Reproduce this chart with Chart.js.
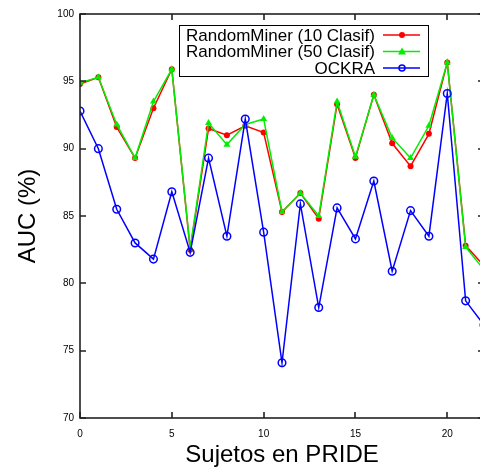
<!DOCTYPE html>
<html>
<head>
<meta charset="utf-8">
<script src="https://cdn.jsdelivr.net/npm/chart.js@4/dist/chart.umd.min.js"></script>
<style>
html,body{margin:0;padding:0;background:#fff;overflow:hidden;width:480px;height:470px;}
#wrap{width:490px;height:470px;}
</style>
</head>
<body>
<div id="wrap"><canvas id="c" width="490" height="470"></canvas></div>
<script>
const subjects = [0,1,2,3,4,5,6,7,8,9,10,11,12,13,14,15,16,17,18,19,20,21,22];
const rm10 = [94.8,95.3,91.6,89.3,93.0,95.9,82.5,91.5,91.0,91.7,91.2,85.3,86.7,84.8,93.3,89.3,94.0,90.4,88.7,91.1,96.4,82.8,81.3];
const rm50 = [94.9,95.3,91.8,89.3,93.5,95.9,82.6,91.9,90.3,91.8,92.2,85.3,86.7,85.0,93.5,89.4,94.0,90.8,89.3,91.7,96.4,82.7,81.0];
const ockra = [92.8,90.0,85.5,83.0,81.8,86.8,82.3,89.3,83.5,92.2,83.8,74.1,85.9,78.2,85.6,83.3,87.6,80.9,85.4,83.5,94.1,78.7,76.9];
const seriesNames = ["RandomMiner (10 Clasif)","RandomMiner (50 Clasif)","OCKRA"];
const xTicks = [0,5,10,15,20];
const yTicks = [70,75,80,85,90,95,100];
const xTitle = "Sujetos en PRIDE";
const yTitle = "AUC (%)";

const pts = arr => subjects.map((s,i)=>({x:s,y:arr[i]}));
const FONT = "'Liberation Sans', Arial, Helvetica, sans-serif";

const framePlugin = {
  id:'frame',
  afterDatasetsDraw(chart){
    const {ctx, chartArea:a, scales} = chart;
    ctx.save();
    ctx.strokeStyle = '#222';
    ctx.lineWidth = 1.6;
    ctx.strokeRect(a.left, a.top, a.right-a.left, a.bottom-a.top);
    const L = 6;
    ctx.beginPath();
    xTicks.forEach(v=>{
      const px = Math.round(scales.x.getPixelForValue(v));
      ctx.moveTo(px, a.bottom); ctx.lineTo(px, a.bottom-L);
      ctx.moveTo(px, a.top); ctx.lineTo(px, a.top+L);
    });
    yTicks.forEach(v=>{
      const py = Math.round(scales.y.getPixelForValue(v));
      ctx.moveTo(a.left, py); ctx.lineTo(a.left+L, py);
      ctx.moveTo(a.right, py); ctx.lineTo(a.right-L, py);
    });
    ctx.stroke();
    // legend (gnuplot style)
    const bx=179, by=25, bw=249, bh=51;
    ctx.fillStyle='#fff';
    ctx.fillRect(bx,by,bw,bh);
    ctx.lineWidth=1;
    ctx.strokeStyle='#000';
    ctx.strokeRect(bx+0.5,by+0.5,bw,bh);
    ctx.font = "17px " + FONT;
    ctx.textAlign='right';
    ctx.textBaseline='middle';
    const rows=[35,51.5,68];
    chart.data.datasets.forEach((ds,i)=>{
      const y=rows[i];
      ctx.fillStyle='#000';
      ctx.fillText(ds.label, 375, y+1);
      ctx.strokeStyle=ds.borderColor;
      ctx.lineWidth=1.5;
      ctx.beginPath(); ctx.moveTo(383,y); ctx.lineTo(420,y); ctx.stroke();
      const cx=402;
      ctx.fillStyle=ds.borderColor;
      if(ds.pointStyle==='triangle'){
        ctx.beginPath(); ctx.moveTo(cx,y-4); ctx.lineTo(cx+4,y+3); ctx.lineTo(cx-4,y+3); ctx.closePath(); ctx.fill();
      } else if(ds.label==='OCKRA'){
        ctx.beginPath(); ctx.arc(cx,y,3,0,Math.PI*2); ctx.stroke();
      } else {
        ctx.beginPath(); ctx.arc(cx,y,3,0,Math.PI*2); ctx.fill();
      }
    });
    ctx.restore();
  }
};

new Chart(document.getElementById('c'), {
  type:'line',
  data:{
    datasets:[
      {label:seriesNames[0], data:pts(rm10), borderColor:'#ff0000', backgroundColor:'#ff0000', borderWidth:1.5,
       pointStyle:'circle', pointRadius:3, pointBorderWidth:0, order:2, tension:0},
      {label:seriesNames[1], data:pts(rm50), borderColor:'#00ee00', backgroundColor:'#00ee00', borderWidth:1.5,
       pointStyle:'triangle', pointRadius:4, pointBorderWidth:0, order:1, tension:0},
      {label:seriesNames[2], data:pts(ockra), borderColor:'#0000ff', backgroundColor:'rgba(0,0,0,0)', borderWidth:1.5,
       pointStyle:'circle', pointRadius:3.8, pointBorderWidth:1.5, order:0, tension:0}
    ]
  },
  options:{
    responsive:false,
    animation:false,
    devicePixelRatio:1,
    layout:{padding:{top:14,right:6,left:0,bottom:0}},
    plugins:{legend:{display:false}, tooltip:{enabled:false}},
    scales:{
      x:{type:'linear', min:0, max:22,
         afterBuildTicks(s){ s.ticks = xTicks.map(v=>({value:v})); },
         afterFit(s){ s.height = 52; },
         grid:{display:false, drawTicks:false},
         border:{display:false},
         ticks:{color:'#000', padding:10, font:{family:FONT,size:10}, maxRotation:0},
         title:{display:true, text:xTitle, color:'#000', font:{family:FONT,size:24}, padding:{top:0,bottom:0}}
      },
      y:{type:'linear', min:70, max:100,
         afterBuildTicks(s){ s.ticks = yTicks.map(v=>({value:v})); },
         afterFit(s){ s.width = 80; },
         grid:{display:false, drawTicks:false},
         border:{display:false},
         ticks:{color:'#000', padding:6, font:{family:FONT,size:10}},
         title:{display:true, text:yTitle, color:'#000', font:{family:FONT,size:24}, padding:{top:14,bottom:0}}
      }
    }
  },
  plugins:[framePlugin]
});
</script>
</body>
</html>
